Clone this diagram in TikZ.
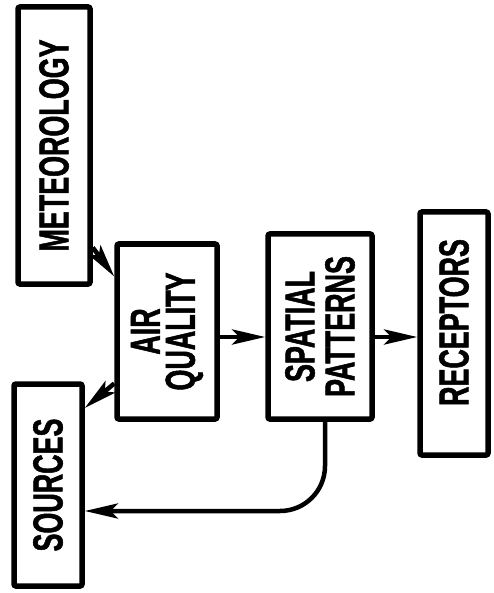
\documentclass[tikz,border=0pt]{standalone}
\usepackage{fontspec}
\usetikzlibrary{arrows.meta}
\newfontfamily\lblfont[FakeStretch=0.64,FakeBold=1.2]{Liberation Sans}
\newcommand{\onelbl}[1]{\rotatebox{90}{#1}}
\newcommand{\twolbl}[3]{\rotatebox{90}{\vbox{\baselineskip=#3\lineskiplimit=-50pt\halign{\hfil##\hfil\cr #1\cr #2\cr}}}}
\tikzset{
  box/.style={draw, line width=5.5pt, rounded corners=2pt, inner sep=0pt,
    font=\lblfont\bfseries\fontsize{42}{42}\selectfont},
  arr/.style={line width=4.5pt, -{Stealth[length=33pt,width=15pt,inset=7pt]}}
}
\begin{document}
\begin{tikzpicture}[x=1pt,y=1pt]
\useasboundingbox (0,0) rectangle (493,-593);
\node[box, minimum width=72pt, minimum height=277pt] (met) at (54,-145.5) {\onelbl{METEOROLOGY}};
\node[box, minimum width=100pt, minimum height=175pt] (air) at (167,-331.5) {\twolbl{AIR}{QUALITY}{35pt}};
\node[box, minimum width=104pt, minimum height=185pt] (sp) at (320,-326.5) {\twolbl{SPATIAL}{PATTERNS}{40pt}};
\node[box, minimum width=68pt, minimum height=243pt] (rec) at (454,-333.5) {\onelbl{\hspace*{22pt}RECEPTORS}};
\node[box, minimum width=68pt, minimum height=202pt] (src) at (48,-485) {\onelbl{SOURCES}};
\coordinate (mid) at (0,-337);
\draw[arr] ([yshift=-102pt]met.east) -- ([yshift=55pt]air.west);
\draw[arr] ([yshift=-52pt]air.west) -- ([yshift=77pt]src.east);
\draw[arr] (air.east |- mid) -- (sp.west |- mid);
\draw[arr] (sp.east |- mid) -- (rec.west |- mid);
\draw[arr, rounded corners=45pt] ([xshift=5pt]sp.south) |- ([yshift=-26pt]src.east);
\end{tikzpicture}
\end{document}
